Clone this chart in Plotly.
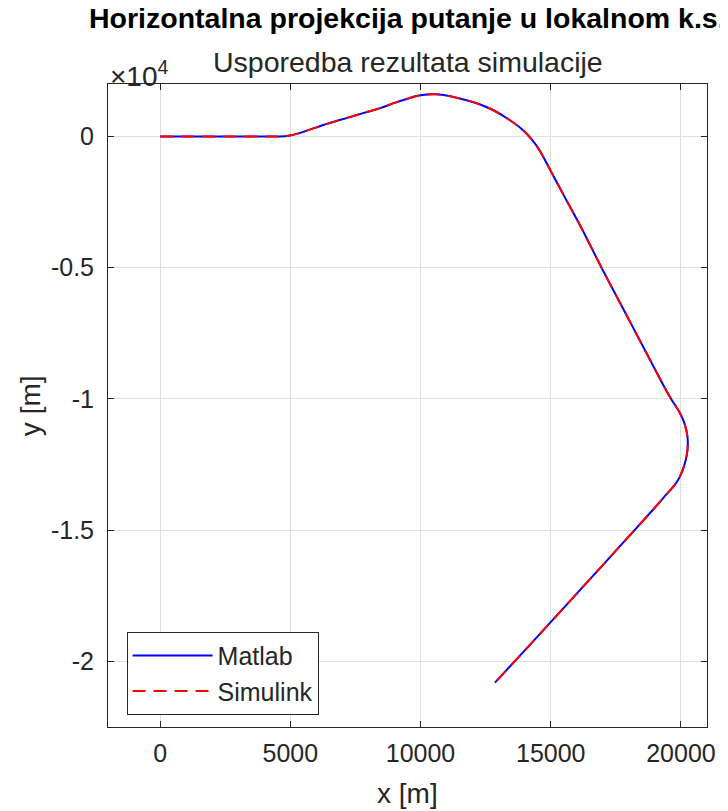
import plotly.graph_objects as go

# Trajectory (metres)
path_x = [0, 1000, 2000, 3000, 4000, 4600, 4934, 5314, 5949, 6570, 7217, 7825, 8483, 9004,
          9498, 9900, 10259, 10600, 11000, 11515, 12161, 12797, 13379, 13938, 14292, 14569, 14950,
          15460, 16220, 16981, 17800, 18700, 19300, 19622, 19922, 20112, 20226, 20264, 20226, 20112,
          19960, 19770, 19465, 18900, 18236, 17000, 15500, 14200, 12858]
path_y = [0, 0, 0, 0, 0, 0, 30, 120, 330, 530, 720, 900, 1090, 1280,
          1440, 1555, 1603, 1606, 1565, 1446, 1267, 1000, 658, 240, -140, -521, -1217,
          -2168, -3564, -5059, -6600, -8300, -9430, -10000, -10470, -10868, -11286, -11667, -12123, -12580,
          -12960, -13265, -13608, -14250, -14977, -16330, -17960, -19370, -20808]

matlab_x, matlab_y = path_x, path_y
simulink_x, simulink_y = path_x, path_y

x_ticks = [0, 5000, 10000, 15000, 20000]
x_ticklabels = ["0", "5000", "10000", "15000", "20000"]
y_ticks = [0, -5000, -10000, -15000, -20000]
y_ticklabels = ["0", "-0.5", "-1", "-1.5", "-2"]

FONT = "Liberation Sans, Arial, sans-serif"
AX = "#262626"
GRID = "#dfdfdf"

fig = go.Figure()
fig.add_trace(go.Scatter(x=matlab_x, y=matlab_y, mode="lines", name="Matlab",
                         line=dict(color="#0000ff", width=2, shape="spline", smoothing=0.9)))
fig.add_trace(go.Scatter(x=simulink_x, y=simulink_y, mode="lines", name="Simulink",
                         line=dict(color="#ff0000", width=2, dash="13px,8px",
                                   shape="spline", smoothing=0.9)))

axis_common = dict(showline=True, linecolor=AX, linewidth=1, mirror="ticks",
                   ticks="inside", ticklen=6, tickcolor=AX, tickwidth=1,
                   showgrid=True, gridcolor=GRID, gridwidth=1, zeroline=False,
                   tickfont=dict(family=FONT, size=25, color=AX))

# The page body adds an 8 px offset, so the figure is sized 8 px smaller.
fig.update_layout(
    width=720, height=803,
    margin=dict(l=100, r=16, t=76, b=84),
    paper_bgcolor="white", plot_bgcolor="white",
    showlegend=True,
    legend=dict(x=0.031, y=0.148, xanchor="left", yanchor="top",
                bgcolor="white", bordercolor=AX, borderwidth=1,
                font=dict(family=FONT, size=25, color=AX), itemwidth=80,
                tracegroupgap=0),
    xaxis=dict(range=[-2000, 21000], tickvals=x_ticks, ticktext=x_ticklabels,
               ticklabelstandoff=4, **axis_common),
    yaxis=dict(range=[-22500, 2000], tickvals=y_ticks, ticktext=y_ticklabels,
               ticklabelstandoff=8, **axis_common),
)

annotations = [
    dict(text="<b>Horizontalna projekcija putanje u lokalnom k.s.</b>", x=0.5, y=18,
         font=dict(family=FONT, size=28.5, color="black")),
    dict(text="Usporedba rezultata simulacije", x=0.5, y=62,
         font=dict(family=FONT, size=28.5, color=AX)),
]
for a in annotations:
    fig.add_annotation(text=a["text"], xref="paper", yref="paper", x=a["x"],
                       y=(727 - a["y"]) / 643, xanchor="center", yanchor="middle",
                       showarrow=False, font=a["font"])

fig.add_annotation(text="×10<sup>4</sup>", xref="paper", yref="paper", x=0.0,
                   y=(727 - 74) / 643, xanchor="left", yanchor="middle",
                   showarrow=False, font=dict(family=FONT, size=28, color=AX))
fig.add_annotation(text="x [m]", xref="paper", yref="paper", x=0.5,
                   y=(727 - 793) / 643, xanchor="center", yanchor="middle",
                   showarrow=False, font=dict(family=FONT, size=28, color=AX))
fig.add_annotation(text="y [m]", xref="paper", yref="paper", x=(30 - 108) / 604,
                   y=0.5, xanchor="center", yanchor="middle", textangle=-90,
                   showarrow=False, font=dict(family=FONT, size=28, color=AX))

fig.write_html("out.html")
